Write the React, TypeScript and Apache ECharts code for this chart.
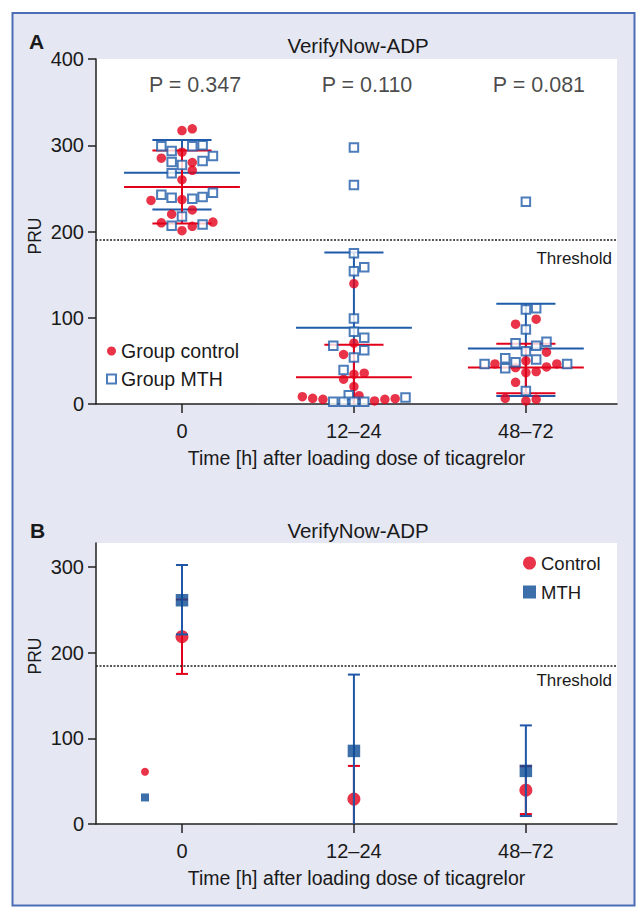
import React, { useEffect, useRef } from "react";
import * as echarts from "echarts";

const FONT = "'Liberation Sans', Arial, Helvetica, sans-serif";
const TEXT = "#1a1a1a";
const RED = "#e2001a";
const BLUE = "#1f5ba8";
const NAVY = "#0b4a93";

const categories = ["0", "12–24", "48–72"];
const pLabels = ["P = 0.347", "P = 0.110", "P = 0.081"];
const pLabelY = 370;
const thresholdA = 191;
const thresholdB = 185;
const xAxisTitle = "Time [h] after loading dose of ticagrelor";

// Panel A individual values: [category index, jitter slot, PRU]
const controlA: number[][] = [
  [0, 0, 317], [0, 1, 319], [0, 0, 292], [0, -2, 285], [0, 1, 280], [0, 1, 271], [0, 0, 260],
  [0, -3, 236], [0, 0, 237], [0, 1, 225], [0, -1, 220], [0, -2, 210], [0, 3, 211], [0, 1, 206], [0, 0, 201],
  [1, 0, 139.5], [1, 0, 70.5], [1, -1, 57.4], [1, 0, 34.5], [1, 1, 35.7], [1, -1, 28.7], [1, 0, 20.2],
  [1, -5, 8.5], [1, -4, 6.6], [1, -3, 5.4], [1, 0.5, 9.7], [1, 2, 3.5], [1, 3, 5.4], [1, 4, 6.2],
  [2, -1, 92.6], [2, 1, 98.4], [2, 2, 60.1], [2, 0, 50], [2, -3, 46.5], [2, -1, 42.2], [2, 0, 36.4],
  [2, 1, 37.6], [2, 2, 43], [2, 3, 46.5], [2, -1, 25.2], [2, -2, 6.6], [2, 0, 3.5], [2, 1, 5.4],
];
const mthA: number[][] = [
  [0, -2, 298.8], [0, -1, 293.4], [0, 1, 298.8], [0, 2, 300], [0, 3, 287.6], [0, -1, 280.6], [0, 0, 277.1],
  [0, 2, 281.8], [0, -1, 267.4], [0, -2, 242.6], [0, -1, 239.2], [0, 1, 238], [0, 2, 239.9], [0, 3, 245],
  [0, 0, 217.4], [0, -1, 206.6], [0, 2, 208.1],
  [1, 0, 297.3], [1, 0, 253.8], [1, 0, 174.8], [1, 1, 158.5], [1, 0, 153.9], [1, 0, 99.2], [1, 0, 83.7],
  [1, 1, 76.7], [1, -2, 67.4], [1, 1, 62.4], [1, 0, 53.9], [1, -1, 39.5], [1, -0.5, 10.1], [1, -2, 2.7],
  [1, -1, 2.7], [1, 0, 2.7], [1, 1, 2.7], [1, 5, 7.4],
  [2, 0, 234.5], [2, 0, 109.7], [2, 1, 110.9], [2, 0, 86.4], [2, -1, 70.5], [2, 1, 67.4], [2, 2, 72.1],
  [2, 0, 61.2], [2, 1, 51.5], [2, -2, 53.1], [2, -4, 46.5], [2, -2, 41.5], [2, -1, 48.5], [2, 4, 46.5],
  [2, 0, 15.1],
];

const controlMeanA = [251.5, 31, 42.2];
const controlLowA = [209.3, 0, 12.4];
const controlHighA = [293.8, 68.6, 69.8];
const mthMeanA = [268.2, 88.4, 64.3];
const mthLowA = [225.6, 0, 9.3];
const mthHighA = [306.2, 175.6, 116.3];

const controlMeanB = [218.6, 29.1, 39.5];
const controlLowB = [175.2, 0, 11.6];
const controlHighB = [262, 67.8, 67.4];
const mthMeanB = [261.2, 85.3, 62];
const mthLowB = [221.3, 0, 9.3];
const mthHighB = [302.3, 174.4, 115.1];

const strayControlB = [[-0.215, 61]];
const strayMthB = [[-0.215, 31]];

const yTicksA = [0, 100, 200, 300, 400];
const yTicksB = [0, 100, 200, 300];
const xTicks = [0, 1, 2];

const JITTER = 0.06;

const barData = (mean: number[], low: number[], high: number[]) =>
  mean.map((m, i) => [i, m, low[i], high[i]]);

const makeBarRender =
  (color: string, width: number, halfMean: number, halfCap: number, drawMean: boolean) =>
  (_params: any, api: any) => {
    const x = api.value(0) as number;
    const m = api.value(1) as number;
    const lo = api.value(2) as number;
    const hi = api.value(3) as number;
    const style = { stroke: color, lineWidth: width };
    const hl = (v: number, half: number) => {
      const a = api.coord([x - half, v]);
      const b = api.coord([x + half, v]);
      return { type: "line", shape: { x1: a[0], y1: a[1], x2: b[0], y2: b[1] }, style };
    };
    const t = api.coord([x, hi]);
    const b = api.coord([x, lo]);
    const children: any[] = [
      { type: "line", shape: { x1: t[0], y1: t[1], x2: b[0], y2: b[1] }, style },
    ];
    if (drawMean) children.push(hl(m, halfMean));
    if (hi > 0) children.push(hl(hi, halfCap));
    if (lo > 0) children.push(hl(lo, halfCap));
    return { type: "group", children };
  };

const axisFont = { fontFamily: FONT, color: TEXT };

const makeXAxis = (gridIndex: number) => ({
  type: "value",
  gridIndex,
  min: -0.5,
  max: 2.53,
  axisLine: { show: true, onZero: false, lineStyle: { color: "#222", width: 1.5 } },
  axisTick: { show: true, customValues: xTicks, length: 9, lineStyle: { color: "#222", width: 1.5 } },
  axisLabel: {
    customValues: xTicks,
    formatter: (v: number) => categories[Math.round(v)] ?? "",
    fontSize: 20,
    margin: 17,
    ...axisFont,
  },
  splitLine: { show: false },
  name: xAxisTitle,
  nameLocation: "middle",
  nameGap: 44,
  nameTextStyle: { fontSize: 19.5, ...axisFont },
});

const makeYAxis = (gridIndex: number, max: number, ticks: number[]) => ({
  type: "value",
  gridIndex,
  min: 0,
  max,
  axisLine: { show: true, onZero: false, lineStyle: { color: "#222", width: 1.5 } },
  axisTick: { show: true, customValues: ticks, length: 8, lineStyle: { color: "#222", width: 1.5 } },
  axisLabel: { customValues: ticks, fontSize: 20, margin: 12, ...axisFont },
  splitLine: { show: false },
});

const thresholdLine = (value: number, dy: number) => ({
  silent: true,
  symbol: "none",
  animation: false,
  lineStyle: { type: [2, 1.5], color: "#222", width: 1.6 },
  label: {
    show: true,
    formatter: "Threshold",
    position: "insideEndBottom",
    distance: [5, dy],
    fontSize: 17,
    fontFamily: FONT,
    color: TEXT,
  },
  data: [{ yAxis: value }],
});

export default function App() {
  const ref = useRef<HTMLDivElement>(null);

  useEffect(() => {
    if (!ref.current) return;
    const chart = echarts.init(ref.current, undefined, { renderer: "svg" });

    const option: any = {
      animation: false,
      backgroundColor: "#ffffff",
      title: [
        {
          text: "VerifyNow-ADP", left: 358, top: 35, textAlign: "center", padding: 0,
          textStyle: { fontSize: 20.5, fontWeight: "normal", ...axisFont },
        },
        { text: "A", left: 29, top: 31, padding: 0, textStyle: { fontSize: 21, fontWeight: "bold", ...axisFont } },
        {
          text: "VerifyNow-ADP", left: 358, top: 519.5, textAlign: "center", padding: 0,
          textStyle: { fontSize: 20.5, fontWeight: "normal", ...axisFont },
        },
        { text: "B", left: 30, top: 519.5, padding: 0, textStyle: { fontSize: 21, fontWeight: "bold", ...axisFont } },
      ],
      legend: [
        {
          data: ["Group control", "Group MTH"],
          orient: "vertical", left: 106, top: 341, padding: 0,
          itemWidth: 9, itemHeight: 9, itemGap: 8, selectedMode: false,
          textStyle: { fontSize: 19.5, ...axisFont },
        },
        {
          data: ["Control", "MTH"],
          orient: "vertical", left: 523, top: 553.5, padding: 0,
          itemWidth: 13, itemHeight: 13, itemGap: 10, selectedMode: false,
          textStyle: { fontSize: 18.5, ...axisFont },
        },
      ],
      grid: [
        { left: 96, top: 59, width: 521, height: 345, show: true, backgroundColor: "#fff", borderWidth: 0 },
        { left: 96, top: 543, width: 521, height: 281, show: true, backgroundColor: "#fff", borderWidth: 0 },
      ],
      xAxis: [makeXAxis(0), makeXAxis(1)],
      yAxis: [
        { ...makeYAxis(0, 400, yTicksA), interval: 100 },
        makeYAxis(1, 328, yTicksB),
      ],
      graphic: [
        {
          type: "rect", z: -10, silent: true,
          shape: { x: 12.5, y: 13, width: 622, height: 892.5 },
          style: { fill: "#e5e7f3", stroke: "#4b6db5", lineWidth: 2 },
        },
        {
          type: "text", x: 35, y: 236, rotation: Math.PI / 2,
          style: { text: "PRU", fontSize: 17.5, fontFamily: FONT, fill: TEXT, align: "center", verticalAlign: "middle" },
        },
        {
          type: "text", x: 35, y: 656, rotation: Math.PI / 2,
          style: { text: "PRU", fontSize: 17.5, fontFamily: FONT, fill: TEXT, align: "center", verticalAlign: "middle" },
        },
      ],
      series: [
        // ---- Panel A ----
        {
          type: "custom", name: "mthBarsA", xAxisIndex: 0, yAxisIndex: 0, z: 3,
          renderItem: makeBarRender(BLUE, 2, 0.337, 0.172, true),
          data: barData(mthMeanA, mthLowA, mthHighA),
          encode: { x: 0, y: [1, 2, 3] }, silent: true, clip: false,
        },
        {
          type: "custom", name: "controlBarsA", xAxisIndex: 0, yAxisIndex: 0, z: 3,
          renderItem: makeBarRender(RED, 2, 0.337, 0.172, true),
          data: barData(controlMeanA, controlLowA, controlHighA),
          encode: { x: 0, y: [1, 2, 3] }, silent: true, clip: false,
        },
        {
          type: "scatter", name: "Group control", xAxisIndex: 0, yAxisIndex: 0, z: 5,
          symbol: "circle", symbolSize: 9.5,
          itemStyle: { color: RED },
          data: controlA.map(([c, j, v]) => [c + j * JITTER, v]),
          markLine: thresholdLine(thresholdA, 11),
        },
        {
          type: "scatter", name: "Group MTH", xAxisIndex: 0, yAxisIndex: 0, z: 6,
          symbol: "rect", symbolSize: 8.5,
          itemStyle: { color: "#ffffff", borderColor: BLUE, borderWidth: 2 },
          data: mthA.map(([c, j, v]) => [c + j * JITTER, v]),
        },
        {
          type: "scatter", name: "pValues", xAxisIndex: 0, yAxisIndex: 0, z: 6,
          symbolSize: 0, silent: true,
          label: { show: true, position: "inside", fontSize: 21.5, ...axisFont },
          data: pLabels.map((t, i) => ({ value: [i + 0.076, pLabelY], label: { formatter: t } })),
        },
        // ---- Panel B ----
        {
          type: "custom", name: "controlBarsB", xAxisIndex: 1, yAxisIndex: 1, z: 3,
          renderItem: makeBarRender(RED, 2, 0, 0.035, false),
          data: barData(controlMeanB, controlLowB, controlHighB),
          encode: { x: 0, y: [1, 2, 3] }, silent: true, clip: false,
        },
        {
          type: "scatter", name: "Control", xAxisIndex: 1, yAxisIndex: 1, z: 4,
          symbol: "circle", symbolSize: 13,
          itemStyle: { color: RED },
          data: controlMeanB.map((v, i) => [i, v]),
          markLine: thresholdLine(thresholdB, 6),
        },
        {
          type: "custom", name: "mthBarsB", xAxisIndex: 1, yAxisIndex: 1, z: 5,
          renderItem: makeBarRender("#2056a6", 2, 0, 0.035, false),
          data: barData(mthMeanB, mthLowB, mthHighB),
          encode: { x: 0, y: [1, 2, 3] }, silent: true, clip: false,
        },
        {
          type: "scatter", name: "MTH", xAxisIndex: 1, yAxisIndex: 1, z: 6,
          symbol: "rect", symbolSize: 12.5,
          itemStyle: { color: NAVY },
          data: mthMeanB.map((v, i) => [i, v]),
        },
        {
          type: "scatter", name: "strayControlB", xAxisIndex: 1, yAxisIndex: 1, z: 6,
          symbol: "circle", symbolSize: 8, silent: true,
          itemStyle: { color: RED },
          data: strayControlB,
        },
        {
          type: "scatter", name: "strayMthB", xAxisIndex: 1, yAxisIndex: 1, z: 6,
          symbol: "rect", symbolSize: 8, silent: true,
          itemStyle: { color: NAVY },
          data: strayMthB,
        },
      ],
    };

    chart.setOption(option);
    return () => chart.dispose();
  }, []);

  return (
    <div
      ref={ref}
      style={{ position: "absolute", left: 0, top: 0, width: 643, height: 919 }}
    />
  );
}
